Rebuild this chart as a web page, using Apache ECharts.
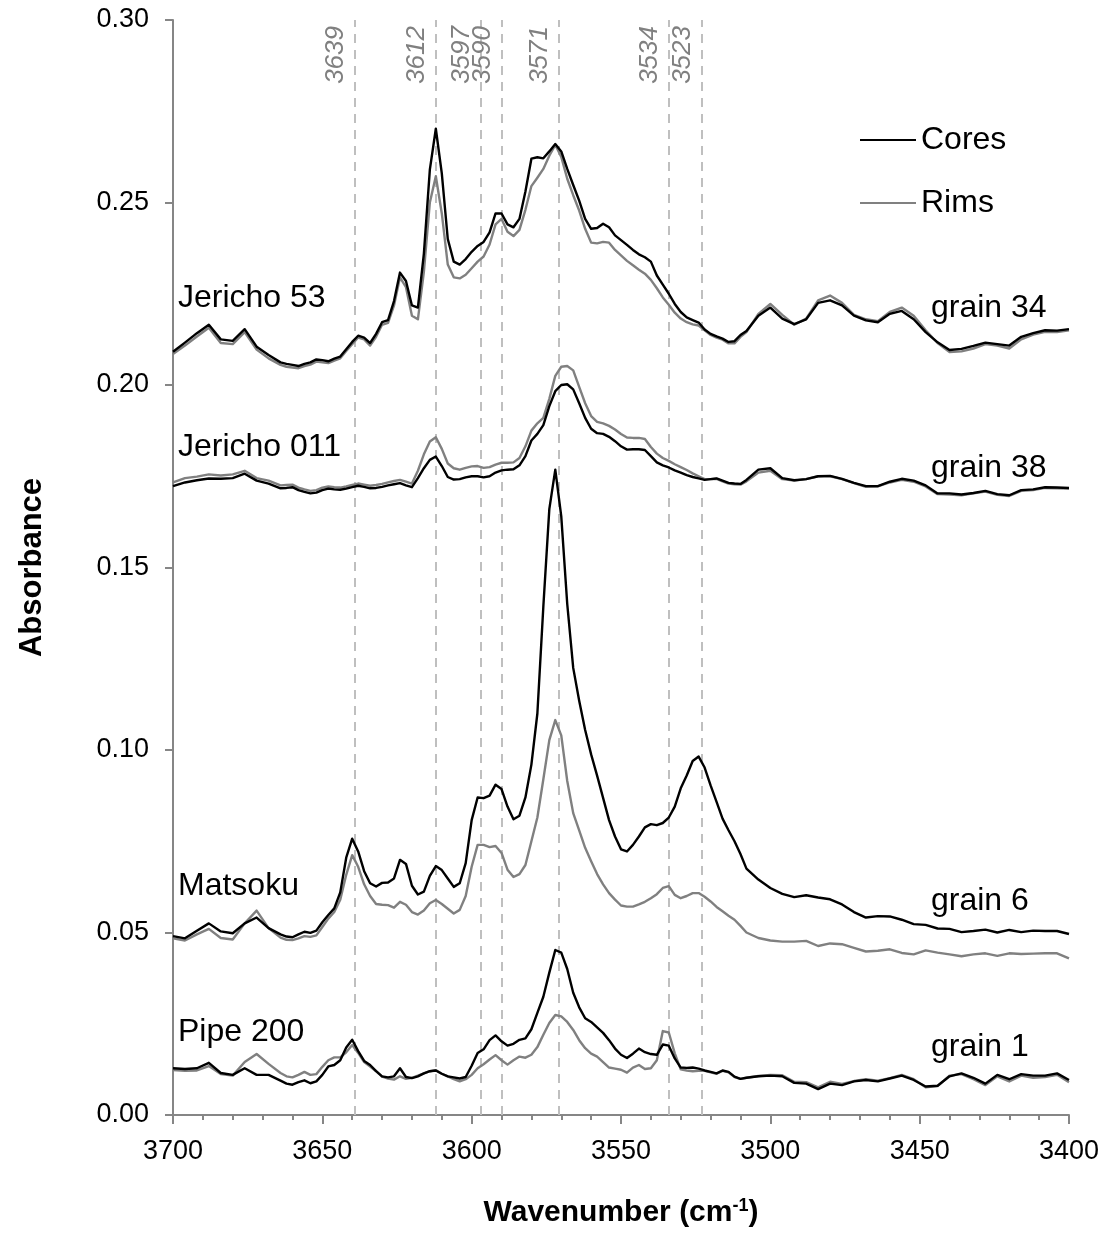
<!DOCTYPE html>
<html>
<head>
<meta charset="utf-8">
<title>OH absorbance spectra, cores and rims</title>
<script src="https://cdn.jsdelivr.net/npm/echarts@6/dist/echarts.min.js"></script>
<style>
  html, body { margin: 0; padding: 0; background: #ffffff; }
  #chart { width: 1105px; height: 1249px; }
</style>
</head>
<body>
<div id="chart"></div>
<script>
// Wavenumber grid (cm-1), shared by every spectrum
const wavenumbers = [
  3700,3696,3692,3688,3684,3680,3676,3672,3668,3664,
  3662,3660,3658,3656,3654,3652,3650,3648,3646,3644,
  3642,3640,3638,3636,3634,3632,3630,3628,3626,3624,
  3622,3620,3618,3616,3614,3612,3610,3608,3606,3604,
  3602,3600,3598,3596,3594,3592,3590,3588,3586,3584,
  3582,3580,3578,3576,3574,3572,3570,3568,3566,3564,
  3562,3560,3558,3556,3554,3552,3550,3548,3546,3544,
  3542,3540,3538,3536,3534,3532,3530,3528,3526,3524,
  3522,3520,3518,3516,3514,3512,3510,3508,
  3504,3500,3496,3492,3488,3484,3480,3476,3472,3468,
  3464,3460,3456,3452,3448,3444,3440,3436,3432,3428,
  3424,3420,3416,3412,3408,3404,3400
];

// Jericho 53, grain 34
const jericho53Core = [
  0.2091,0.2116,0.2142,0.2165,0.2125,0.2121,0.2153,0.2105,0.2082,0.2062,
  0.2058,0.2055,0.2052,0.2058,0.2062,0.2070,0.2068,0.2065,0.2072,0.2078,
  0.2098,0.2118,0.2135,0.2130,0.2115,0.2140,0.2172,0.2178,0.2230,0.2308,
  0.2285,0.2218,0.2212,0.2360,0.2590,0.2702,0.2580,0.2400,0.2338,0.2330,
  0.2345,0.2365,0.2381,0.2392,0.2418,0.2470,0.2470,0.2440,0.2432,0.2455,
  0.2530,0.2620,0.2624,0.2621,0.2640,0.2660,0.2640,0.2592,0.2548,0.2505,
  0.2455,0.2428,0.2430,0.2442,0.2432,0.2410,0.2397,0.2384,0.2370,0.2358,
  0.2350,0.2338,0.2300,0.2275,0.2250,0.2222,0.2200,0.2185,0.2178,0.2171,
  0.2152,0.2140,0.2133,0.2127,0.2118,0.2120,0.2137,0.2148,
  0.2190,0.2212,0.2182,0.2167,0.2180,0.2225,0.2232,0.2218,0.2190,0.2177,
  0.2172,0.2195,0.2203,0.2180,0.2145,0.2117,0.2096,0.2099,0.2107,0.2116,
  0.2112,0.2108,0.2132,0.2142,0.2150,0.2149,0.2153
];
const jericho53Rim = [
  0.2085,0.2108,0.2133,0.2157,0.2115,0.2112,0.2145,0.2097,0.2073,0.2055,
  0.2050,0.2048,0.2046,0.2052,0.2056,0.2064,0.2062,0.2060,0.2067,0.2073,
  0.2093,0.2112,0.2130,0.2125,0.2108,0.2132,0.2165,0.2170,0.2218,0.2295,
  0.2268,0.2190,0.2180,0.2310,0.2500,0.2572,0.2470,0.2330,0.2295,0.2292,
  0.2302,0.2320,0.2338,0.2352,0.2385,0.2440,0.2455,0.2420,0.2408,0.2425,
  0.2480,0.2545,0.2568,0.2592,0.2628,0.2658,0.2625,0.2565,0.2520,0.2478,
  0.2428,0.2390,0.2388,0.2392,0.2390,0.2370,0.2355,0.2340,0.2328,0.2316,
  0.2305,0.2288,0.2265,0.2240,0.2220,0.2198,0.2182,0.2172,0.2166,0.2163,
  0.2150,0.2137,0.2130,0.2124,0.2114,0.2114,0.2132,0.2145,
  0.2195,0.2222,0.2192,0.2165,0.2182,0.2232,0.2245,0.2225,0.2192,0.2180,
  0.2175,0.2200,0.2212,0.2190,0.2150,0.2115,0.2090,0.2092,0.2100,0.2112,
  0.2108,0.2100,0.2125,0.2138,0.2146,0.2145,0.2150
];

// Jericho 011, grain 38
const jericho011Core = [
  0.1723,0.1733,0.1739,0.1744,0.1743,0.1745,0.1757,0.1738,0.1730,0.1717,
  0.1718,0.1720,0.1712,0.1707,0.1703,0.1705,0.1712,0.1716,0.1714,0.1713,
  0.1716,0.1720,0.1724,0.1721,0.1717,0.1718,0.1721,0.1725,0.1728,0.1731,
  0.1725,0.1720,0.1745,0.1772,0.1795,0.1804,0.1778,0.1748,0.1741,0.1742,
  0.1747,0.1750,0.1750,0.1747,0.1750,0.1760,0.1766,0.1768,0.1769,0.1780,
  0.1805,0.1848,0.1866,0.1890,0.1942,0.1983,0.2000,0.2002,0.1988,0.1950,
  0.1910,0.1880,0.1868,0.1866,0.1858,0.1846,0.1832,0.1823,0.1824,0.1824,
  0.1822,0.1805,0.1788,0.1780,0.1774,0.1766,0.1760,0.1753,0.1748,0.1744,
  0.1740,0.1742,0.1744,0.1738,0.1732,0.1730,0.1729,0.1740,
  0.1768,0.1772,0.1745,0.1739,0.1742,0.1750,0.1751,0.1743,0.1732,0.1723,
  0.1723,0.1735,0.1743,0.1738,0.1725,0.1703,0.1703,0.1700,0.1704,0.1710,
  0.1701,0.1698,0.1712,0.1714,0.1720,0.1719,0.1718
];
const jericho011Rim = [
  0.1733,0.1745,0.1749,0.1755,0.1752,0.1755,0.1765,0.1745,0.1738,0.1725,
  0.1726,0.1727,0.1719,0.1714,0.1710,0.1712,0.1719,0.1722,0.1720,0.1719,
  0.1722,0.1726,0.1730,0.1727,0.1724,0.1726,0.1729,0.1733,0.1737,0.1740,
  0.1735,0.1730,0.1765,0.1810,0.1845,0.1857,0.1825,0.1785,0.1772,0.1768,
  0.1773,0.1777,0.1778,0.1773,0.1775,0.1782,0.1787,0.1787,0.1788,0.1800,
  0.1832,0.1875,0.1895,0.1910,0.1962,0.2025,0.2050,0.2052,0.2040,0.1995,
  0.1950,0.1915,0.1899,0.1895,0.1888,0.1878,0.1866,0.1856,0.1855,0.1855,
  0.1852,0.1830,0.1812,0.1800,0.1792,0.1783,0.1775,0.1767,0.1758,0.1750,
  0.1742,0.1742,0.1743,0.1736,0.1730,0.1728,0.1727,0.1736,
  0.1760,0.1765,0.1742,0.1738,0.1742,0.1750,0.1750,0.1742,0.1731,0.1721,
  0.1722,0.1733,0.1740,0.1735,0.1722,0.1701,0.1700,0.1698,0.1703,0.1708,
  0.1699,0.1696,0.1710,0.1712,0.1718,0.1717,0.1716
];

// Matsoku, grain 6
const matsokuCore = [
  0.0490,0.0484,0.0505,0.0525,0.0503,0.0498,0.0525,0.0541,0.0512,0.0495,
  0.0489,0.0487,0.0495,0.0502,0.0499,0.0505,0.0528,0.0548,0.0566,0.0610,
  0.0705,0.0757,0.0722,0.0668,0.0635,0.0626,0.0636,0.0637,0.0648,0.0699,
  0.0688,0.0628,0.0604,0.0612,0.0655,0.0682,0.0671,0.0648,0.0625,0.0635,
  0.0690,0.0808,0.0870,0.0868,0.0875,0.0905,0.0893,0.0845,0.0810,0.0820,
  0.0870,0.0960,0.1100,0.1393,0.1660,0.1768,0.1640,0.1400,0.1225,0.1135,
  0.1055,0.0988,0.0930,0.0869,0.0808,0.0763,0.0728,0.0722,0.0740,0.0763,
  0.0788,0.0797,0.0794,0.0800,0.0815,0.0845,0.0895,0.0930,0.0970,0.0982,
  0.0952,0.0903,0.0858,0.0812,0.0780,0.0750,0.0715,0.0675,
  0.0645,0.0622,0.0606,0.0597,0.0602,0.0596,0.0591,0.0577,0.0556,0.0541,
  0.0545,0.0544,0.0535,0.0523,0.0521,0.0511,0.0510,0.0501,0.0504,0.0508,
  0.0500,0.0507,0.0501,0.0505,0.0504,0.0504,0.0496
];
const matsokuRim = [
  0.0484,0.0478,0.0495,0.0510,0.0485,0.0481,0.0525,0.0560,0.0512,0.0486,
  0.0480,0.0479,0.0484,0.0490,0.0488,0.0492,0.0515,0.0538,0.0556,0.0590,
  0.0658,0.0712,0.0680,0.0632,0.0600,0.0578,0.0576,0.0575,0.0568,0.0584,
  0.0576,0.0556,0.0549,0.0560,0.0580,0.0589,0.0578,0.0565,0.0552,0.0562,
  0.0600,0.0680,0.0740,0.0740,0.0734,0.0737,0.0718,0.0672,0.0652,0.0660,
  0.0685,0.0750,0.0815,0.0920,0.1027,0.1082,0.1040,0.0915,0.0827,0.0780,
  0.0732,0.0695,0.0660,0.0632,0.0608,0.0590,0.0574,0.0571,0.0571,0.0577,
  0.0584,0.0594,0.0605,0.0622,0.0627,0.0603,0.0594,0.0600,0.0608,0.0608,
  0.0598,0.0585,0.0570,0.0558,0.0546,0.0535,0.0518,0.0500,
  0.0485,0.0478,0.0475,0.0475,0.0477,0.0463,0.0470,0.0468,0.0458,0.0448,
  0.0450,0.0454,0.0444,0.0440,0.0451,0.0445,0.0440,0.0435,0.0440,0.0443,
  0.0436,0.0443,0.0441,0.0442,0.0443,0.0443,0.0429
];

// Pipe 200, grain 1
const pipe200Core = [
  0.0128,0.0126,0.0128,0.0143,0.0115,0.0110,0.0128,0.0110,0.0110,0.0094,
  0.0086,0.0083,0.0090,0.0095,0.0087,0.0092,0.0110,0.0133,0.0137,0.0150,
  0.0185,0.0206,0.0175,0.0148,0.0137,0.0120,0.0106,0.0103,0.0106,0.0128,
  0.0104,0.0101,0.0106,0.0114,0.0120,0.0122,0.0113,0.0106,0.0103,0.0100,
  0.0104,0.0135,0.0170,0.0180,0.0205,0.0218,0.0202,0.0190,0.0195,0.0206,
  0.0210,0.0235,0.0280,0.0324,0.0390,0.0452,0.0445,0.0400,0.0335,0.0295,
  0.0265,0.0255,0.0240,0.0225,0.0205,0.0182,0.0165,0.0156,0.0168,0.0182,
  0.0172,0.0167,0.0165,0.0193,0.0190,0.0155,0.0130,0.0129,0.0130,0.0127,
  0.0122,0.0118,0.0114,0.0122,0.0118,0.0105,0.0099,0.0102,
  0.0106,0.0108,0.0106,0.0088,0.0086,0.0071,0.0086,0.0082,0.0092,0.0096,
  0.0092,0.0100,0.0108,0.0096,0.0078,0.0080,0.0106,0.0114,0.0102,0.0086,
  0.0110,0.0098,0.0112,0.0108,0.0108,0.0114,0.0096
];
const pipe200Rim = [
  0.0123,0.0121,0.0122,0.0134,0.0112,0.0108,0.0145,0.0167,0.0140,0.0115,
  0.0106,0.0103,0.0110,0.0118,0.0110,0.0112,0.0132,0.0150,0.0158,0.0158,
  0.0172,0.0192,0.0170,0.0145,0.0133,0.0120,0.0105,0.0100,0.0097,0.0106,
  0.0099,0.0102,0.0108,0.0114,0.0120,0.0123,0.0113,0.0106,0.0098,0.0092,
  0.0098,0.0110,0.0128,0.0139,0.0152,0.0164,0.0150,0.0138,0.0150,0.0160,
  0.0157,0.0165,0.0186,0.0220,0.0252,0.0274,0.0270,0.0255,0.0233,0.0205,
  0.0183,0.0168,0.0160,0.0145,0.0130,0.0127,0.0124,0.0116,0.0130,0.0137,
  0.0126,0.0128,0.0150,0.0230,0.0226,0.0169,0.0125,0.0122,0.0120,0.0121,
  0.0121,0.0117,0.0113,0.0121,0.0117,0.0104,0.0099,0.0102,
  0.0107,0.0110,0.0109,0.0091,0.0090,0.0076,0.0091,0.0085,0.0093,0.0098,
  0.0094,0.0101,0.0110,0.0098,0.0076,0.0079,0.0108,0.0112,0.0098,0.0082,
  0.0106,0.0092,0.0108,0.0102,0.0104,0.0110,0.0090
];

// Band positions marked with dashed guide lines (cm-1)
const peakPositions = [3639, 3612, 3597, 3590, 3571, 3534, 3523];

// Sample names (left) and grain numbers (right)
const sampleNames = ['Jericho 53', 'Jericho 011', 'Matsoku', 'Pipe 200'];
const grainNames = ['grain 34', 'grain 38', 'grain 6', 'grain 1'];

const FONT = '"Liberation Sans", Arial, Helvetica, sans-serif';
const AXIS_GREY = '#868686';
const CORE_COLOR = '#000000';
const RIM_COLOR = '#808080';

function toPairs(values) {
  return wavenumbers.map((w, i) => [w, values[i]]);
}

const rimSpectra = [jericho53Rim, jericho011Rim, matsokuRim, pipe200Rim];
const coreSpectra = [jericho53Core, jericho011Core, matsokuCore, pipe200Core];

function lineSeries(name, values, color, z) {
  return {
    type: 'line',
    name: name,
    data: toPairs(values),
    showSymbol: false,
    symbol: 'none',
    smooth: false,
    z: z,
    color: color,
    lineStyle: { color: color, width: 2.4, join: 'round' },
    emphasis: { disabled: true },
    silent: true
  };
}

const series = [];
rimSpectra.forEach((v) => series.push(lineSeries('Rims', v, RIM_COLOR, 3)));
coreSpectra.forEach((v) => series.push(lineSeries('Cores', v, CORE_COLOR, 4)));

// Dashed guide lines with rotated italic band labels
series[0].markLine = {
  silent: true,
  z: 1,
  symbol: ['none', 'none'],
  animation: false,
  lineStyle: { color: '#BFBFBF', type: [9, 7], width: 2 },
  label: {
    show: true,
    position: 'insideEndTop',
    formatter: '{b}',
    color: '#808080',
    fontStyle: 'italic',
    fontSize: 26,
    fontFamily: FONT,
    distance: 6
  },
  emphasis: { disabled: true },
  data: peakPositions.map((p) => ({ xAxis: p, name: String(p) }))
};

// Text placement for the sample/grain annotations (pixel space)
const sampleLabelY = [298, 447, 886, 1032];
const grainLabelY = [308, 468, 901, 1047];
const graphics = [];
sampleNames.forEach((t, i) => graphics.push({
  type: 'text', x: 178, y: sampleLabelY[i], silent: true,
  style: { text: t, fontSize: 32, fontFamily: FONT, fill: '#000', align: 'left', verticalAlign: 'middle' }
}));
grainNames.forEach((t, i) => graphics.push({
  type: 'text', x: 931, y: grainLabelY[i], silent: true,
  style: { text: t, fontSize: 32, fontFamily: FONT, fill: '#000', align: 'left', verticalAlign: 'middle' }
}));

const option = {
  backgroundColor: '#ffffff',
  animation: false,
  textStyle: { fontFamily: FONT },
  grid: { left: 173, right: 36, top: 20, bottom: 134, containLabel: false },
  legend: {
    data: ['Cores', 'Rims'],
    orient: 'vertical',
    left: 855,
    top: 119,
    icon: 'rect',
    itemWidth: 56,
    itemHeight: 2,
    itemGap: 31,
    selectedMode: false,
    textStyle: { fontSize: 32, fontFamily: FONT, color: '#000' }
  },
  xAxis: {
    type: 'value',
    min: 3400,
    max: 3700,
    interval: 50,
    inverse: true,
    axisLine: { show: true, lineStyle: { color: AXIS_GREY, width: 2 } },
    axisTick: { show: true, length: 9, lineStyle: { color: AXIS_GREY, width: 2 } },
    minorTick: { show: true, splitNumber: 5, length: 5, lineStyle: { color: AXIS_GREY, width: 2 } },
    axisLabel: {
      fontSize: 27, color: '#000', fontFamily: FONT, margin: 23,
      showMinLabel: true, showMaxLabel: true,
      formatter: (v) => String(Math.round(v))
    },
    splitLine: { show: false },
    minorSplitLine: { show: false },
    name: '{b|Wavenumber (cm}{s|-1}{b|)}',
    nameLocation: 'middle',
    nameGap: 82,
    nameTextStyle: {
      rich: {
        b: { fontSize: 30, fontWeight: 'bold', fontFamily: FONT, color: '#000' },
        s: { fontSize: 18, fontWeight: 'bold', fontFamily: FONT, color: '#000', padding: [0, 0, 14, 0] }
      }
    }
  },
  yAxis: {
    type: 'value',
    min: 0,
    max: 0.30,
    interval: 0.05,
    axisLine: { show: true, lineStyle: { color: AXIS_GREY, width: 2 } },
    axisTick: { show: true, length: 8, lineStyle: { color: AXIS_GREY, width: 2 } },
    axisLabel: { fontSize: 27, color: '#000', fontFamily: FONT, margin: 24, formatter: (v) => v.toFixed(2), showMinLabel: true, showMaxLabel: true },
    splitLine: { show: false },
    name: 'Absorbance',
    nameLocation: 'middle',
    nameGap: 125,
    nameTextStyle: { fontSize: 31, fontWeight: 'bold', fontFamily: FONT, color: '#000' }
  },
  graphic: graphics,
  series: series
};

const chart = echarts.init(document.getElementById('chart'), null, { renderer: 'canvas' });
chart.setOption(option);
</script>
</body>
</html>
